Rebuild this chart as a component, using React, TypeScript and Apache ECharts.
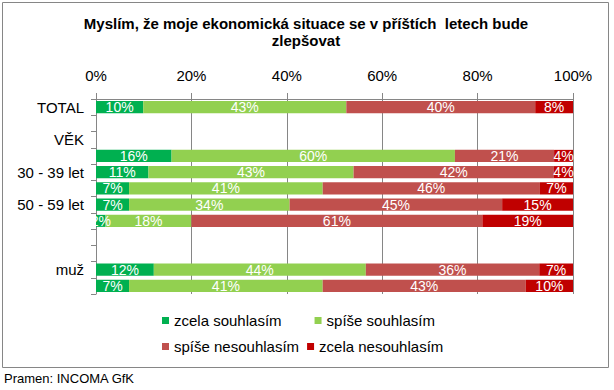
import React, { useEffect, useRef } from "react";
import * as echarts from "echarts";

const titleText = "Myslím, že moje ekonomická situace se v příštích  letech bude\nzlepšovat";
const sourceText = "Pramen: INCOMA GfK";

const categories = [
  "TOTAL",
  "",
  "VĚK",
  "18 - 29 let",
  "30 - 39 let",
  "40 - 49 let",
  "50 - 59 let",
  "60 + let",
  "",
  "",
  "muž",
  "žena",
];

const seriesNames = ["zcela souhlasím", "spíše souhlasím", "spíše nesouhlasím", "zcela nesouhlasím"];
const seriesColors = ["#00B050", "#92D050", "#C0504D", "#C00000"];

const zcelaSouhlasim = [10, null, null, 16, 11, 7, 7, 2, null, null, 12, 7];
const spiseSouhlasim = [43, null, null, 60, 43, 41, 34, 18, null, null, 44, 41];
const spiseNesouhlasim = [40, null, null, 21, 42, 46, 45, 61, null, null, 36, 43];
const zcelaNesouhlasim = [8, null, null, 4, 4, 7, 15, 19, null, null, 7, 10];

const xTicks = [0, 20, 40, 60, 80, 100];

const FONT = "Arial, 'Liberation Sans', sans-serif";

export default function App() {
  const ref = useRef<HTMLDivElement>(null);

  useEffect(() => {
    if (!ref.current) return;
    const chart = echarts.init(ref.current, null, { renderer: "svg" });
    const raw = [zcelaSouhlasim, spiseSouhlasim, spiseNesouhlasim, zcelaNesouhlasim];
    const totals = categories.map((_, i) =>
      raw.reduce((s, arr) => s + (arr[i] == null ? 0 : (arr[i] as number)), 0)
    );
    const series = raw.map((arr, si) => ({
      name: seriesNames[si],
      type: "bar",
      stack: "all",
      barWidth: "74%",
      itemStyle: { color: seriesColors[si] },
      data: arr.map((v, i) => (v == null || totals[i] === 0 ? null : ((v as number) / totals[i]) * 100)),
      label: {
        show: true,
        position: "inside",
        color: "#ffffff",
        fontSize: 14,
        fontFamily: FONT,
        textBorderWidth: 0,
        formatter: (p: any) => {
          const v = raw[p.seriesIndex][p.dataIndex];
          return v == null ? "" : v + "%";
        },
      },
      emphasis: { disabled: true },
    }));

    const legendText = { fontFamily: FONT, fontSize: 15, color: "#000000" };

    chart.setOption({
      animation: false,
      backgroundColor: "#ffffff",
      legend: [
        {
          data: [seriesNames[0], seriesNames[1]],
          left: 157,
          top: 308,
          itemWidth: 7,
          itemHeight: 7,
          itemGap: 33,
          icon: "rect",
          textStyle: legendText,
        },
        {
          data: [seriesNames[2], seriesNames[3]],
          left: 157,
          top: 334,
          itemWidth: 7,
          itemHeight: 7,
          itemGap: 8,
          icon: "rect",
          textStyle: legendText,
        },
      ],
      grid: { left: 96, right: 41, top: 99, bottom: 96, containLabel: false },
      xAxis: {
        type: "value",
        position: "top",
        min: xTicks[0],
        max: xTicks[xTicks.length - 1],
        interval: xTicks[1] - xTicks[0],
        axisLine: { show: true, lineStyle: { color: "#868686", width: 1 } },
        axisTick: { show: true, inside: false, length: 6, lineStyle: { color: "#868686" } },
        splitLine: { show: true, lineStyle: { color: "#868686", width: 1 } },
        axisLabel: {
          formatter: "{value}%",
          fontFamily: FONT,
          fontSize: 15,
          color: "#000000",
          margin: 16,
        },
      },
      yAxis: {
        type: "category",
        inverse: true,
        data: categories,
        axisLine: { show: true, lineStyle: { color: "#868686", width: 1 } },
        axisTick: { show: true, inside: false, length: 5, interval: 0, alignWithLabel: false, lineStyle: { color: "#868686" } },
        splitLine: { show: false },
        axisLabel: {
          interval: (idx: number) => idx % 2 === 0,
          fontFamily: FONT,
          fontSize: 15,
          color: "#000000",
          margin: 12,
        },
      },
      series,
      graphic: [
        {
          type: "rect",
          shape: { x: 2.5, y: 2.5, width: 606, height: 365 },
          style: { fill: "none", stroke: "#868686", lineWidth: 1 },
          silent: true,
        },
        {
          type: "text",
          x: 306,
          y: 15,
          style: {
            text: titleText,
            fontFamily: FONT,
            fontSize: 15,
            fontWeight: "bold",
            fill: "#000000",
            lineHeight: 17,
            textAlign: "center",
            textVerticalAlign: "top",
          },
          silent: true,
        },
        {
          type: "text",
          left: 4,
          top: 372,
          style: { text: sourceText, fontFamily: FONT, fontSize: 13, fill: "#000000" },
          silent: true,
        },
      ],
    });

    return () => chart.dispose();
  }, []);

  return (
    <div
      ref={ref}
      style={{ position: "fixed", left: 0, top: 0, width: 614, height: 390, background: "#fff" }}
    />
  );
}
